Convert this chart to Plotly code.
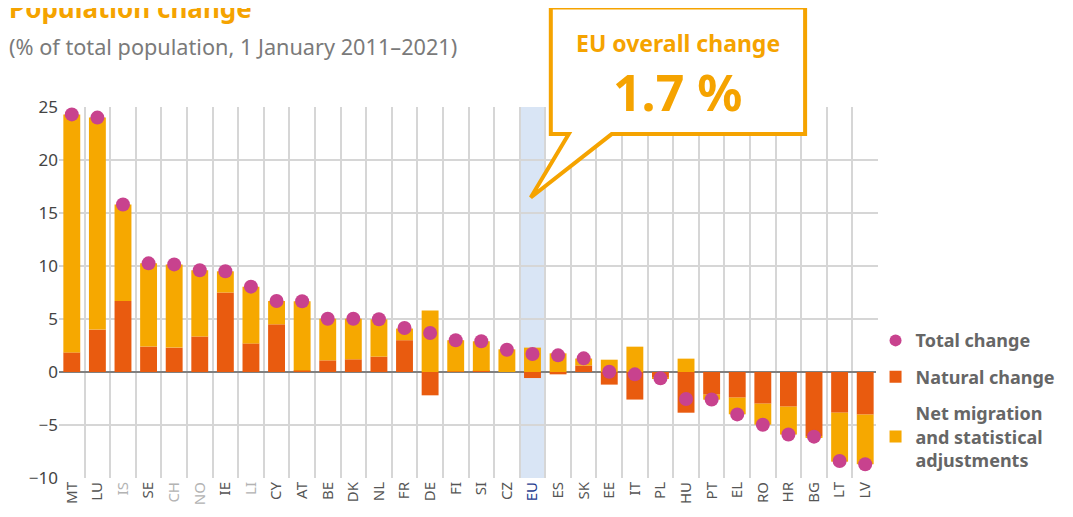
import plotly.graph_objects as go

# Data (% of total population, 1 January 2011-2021)
countries = ["MT", "LU", "IS", "SE", "CH", "NO", "IE", "LI", "CY", "AT", "BE", "DK",
             "NL", "FR", "DE", "FI", "SI", "CZ", "EU", "ES", "SK", "EE", "IT", "PL",
             "HU", "PT", "EL", "RO", "HR", "BG", "LT", "LV"]
natural = [1.85, 4.0, 6.7, 2.4, 2.3, 3.35, 7.5, 2.7, 4.5, 0.15, 1.1, 1.2,
           1.45, 3.0, -2.2, 0.05, 0.1, 0.0, -0.57, -0.22, 0.62, -1.19, -2.6, -0.55,
           -3.84, -2.14, -2.42, -2.99, -3.27, -6.07, -3.84, -4.02]
migration = [22.45, 20.0, 9.1, 7.85, 7.85, 6.25, 2.0, 5.35, 2.2, 6.52, 3.93, 3.83,
             3.52, 1.1, 5.8, 2.95, 2.8, 2.14, 2.3, 1.76, 0.65, 1.16, 2.39, -0.05,
             1.26, -0.47, -1.57, -1.98, -2.63, -0.13, -4.62, -4.68]
total = [24.3, 24.0, 15.8, 10.25, 10.15, 9.6, 9.5, 8.05, 6.7, 6.67, 5.03, 5.03,
         4.97, 4.15, 3.68, 3.0, 2.9, 2.1, 1.7, 1.57, 1.29, 0.03, -0.22, -0.6,
         -2.55, -2.6, -4.0, -4.97, -5.9, -6.1, -8.4, -8.7]
non_eu = ["IS", "CH", "NO", "LI"]
eu_value = "1.7 %"

ORANGE = "#F5A300"
NATURAL = "#E95B0F"
MIGR = "#F6A800"
DOT = "#C8428E"
FONT = "Noto Sans"


def tick_label(c):
    if c in non_eu:
        return f"<span style='color:#b3b3b3'>{c}</span>"
    if c == "EU":
        return f"<span style='color:#1f3d8f'>{c}</span>"
    return c


fig = go.Figure()

fig.add_trace(go.Bar(x=countries, y=natural, name="Natural change",
                     legendrank=2, legendgroup="nat",
                     marker=dict(color=NATURAL, line_width=0)))
fig.add_trace(go.Bar(x=countries, y=migration, legendrank=3, legendgroup="mig",
                     name="Net migration<br>and statistical<br>adjustments",
                     marker=dict(color=MIGR, line_width=0)))
fig.add_trace(go.Scatter(
    x=countries, y=total, mode="markers", name="Total change",
    legendrank=1, legendgroup="tot",
    marker=dict(color=DOT, size=14), cliponaxis=False,
))

eu_idx = countries.index("EU")

# callout box with tail pointing to the EU column (paper coords)
bx0, bx1, by0, by1 = 0.6005, 0.911, 0.927, 1.268
callout = (f"M {bx0},{by0} L 0.6224,{by0} L 0.576,0.756 L 0.6748,{by0} "
           f"L {bx1},{by0} L {bx1},{by1} L {bx0},{by1} Z")

fig.update_layout(
    width=1065, height=509,
    margin=dict(l=51, r=185, t=99, b=33),
    paper_bgcolor="white", plot_bgcolor="white",
    barmode="relative", bargap=0.34,
    font=dict(family=FONT, color="#444"),
    showlegend=True,
    legend=dict(
        x=0.997, y=0.42, xanchor="left", yanchor="top",
        traceorder="grouped", tracegroupgap=10,
        font=dict(size=18, color="#666", family=FONT, weight="bold"),
        itemsizing="constant",
    ),
    xaxis=dict(
        type="category", tickson="boundaries",
        tickvals=countries, ticktext=[tick_label(c) for c in countries],
        tickangle=-90, tickfont=dict(size=15, color="#555"),
        showgrid=True, gridcolor="#d6d6d6", gridwidth=1.5,
        ticks="", range=[-0.5, len(countries) - 0.5],
    ),
    yaxis=dict(
        range=[-10, 25], dtick=5, showgrid=True, gridcolor="#d6d6d6",
        gridwidth=1.5, zeroline=True, zerolinecolor="#808080", zerolinewidth=2,
        tickfont=dict(size=17, color="#444"), ticks="",
    ),
    shapes=[
        dict(type="rect", xref="x", yref="y", x0=eu_idx - 0.5, x1=eu_idx + 0.5,
             y0=-10, y1=25, fillcolor="#d9e5f5", line_width=0, layer="below"),
        dict(type="path", xref="paper", yref="paper", path=callout,
             fillcolor="white", line=dict(color=ORANGE, width=4), layer="above"),
    ],
    annotations=[
        dict(text="<b>Population change</b>", xref="paper", yref="paper",
             x=-0.064, y=1.268, xanchor="left", yanchor="middle", showarrow=False,
             font=dict(size=26, color=ORANGE, family=FONT)),
        dict(text="(% of total population, 1 January 2011\u20132021)",
             xref="paper", yref="paper", x=-0.064, y=1.163, xanchor="left",
             yanchor="middle", showarrow=False,
             font=dict(size=21.7, color="#7a7a7a", family=FONT)),
        dict(text="<b>EU overall change</b>", xref="paper", yref="paper",
             x=(bx0 + bx1) / 2, y=1.172, xanchor="center", yanchor="middle",
             showarrow=False, font=dict(size=23, color=ORANGE, family=FONT)),
        dict(text=f"<b>{eu_value}</b>", xref="paper", yref="paper",
             x=(bx0 + bx1) / 2, y=1.04, xanchor="center", yanchor="middle",
             showarrow=False, font=dict(size=50, color=ORANGE, family=FONT)),
    ],
)

fig.write_html("out.html")
